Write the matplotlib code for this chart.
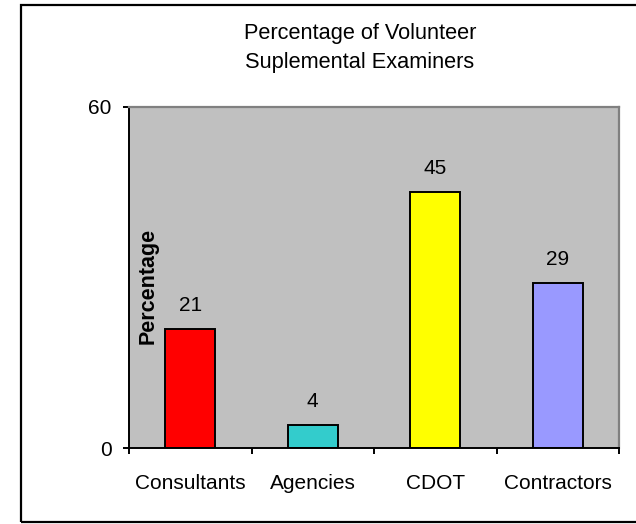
import matplotlib.pyplot as plt
from matplotlib.patches import Rectangle

plt.rcParams['font.family'] = ['Liberation Sans', 'DejaVu Sans']

categories = ['Consultants', 'Agencies', 'CDOT', 'Contractors']
values = [21, 4, 45, 29]
bar_colors = ['#ff0000', '#33cccc', '#ffff00', '#9999ff']

fig = plt.figure(figsize=(6.36, 5.24), dpi=100)
ax = fig.add_axes([129/636, 1 - 448/524, 490/636, 341/524])

# outer frame (right side runs off the picture)
fig.patches.append(Rectangle((21/636, 1 - 522/524), 1.0, 517/524,
                             transform=fig.transFigure, fill=False,
                             edgecolor='black', linewidth=1.6, clip_on=False))

x = range(len(categories))
ax.bar(x, values, width=0.41, color=bar_colors, edgecolor='black', linewidth=1.4)
for i, v in enumerate(values):
    ax.annotate(str(v), xy=(i, v), xytext=(0, 13), textcoords='offset points',
                ha='center', va='baseline', fontsize=15)

ax.set_facecolor('#c0c0c0')
ax.set_xlim(-0.5, 3.5)
ax.set_ylim(0, 60)
ax.set_yticks([0, 60])
ax.tick_params(axis='y', direction='out', length=4.5, width=1.4, pad=8, labelsize=15)

ax.set_xticks(list(x))
ax.set_xticklabels(categories)
ax.set_xticks([-0.5, 0.5, 1.5, 2.5, 3.5], minor=True)
ax.tick_params(axis='x', which='major', length=0, pad=18.5, labelsize=15)
ax.tick_params(axis='x', which='minor', direction='out', length=4.5, width=1.4)

for side in ['left', 'bottom']:
    ax.spines[side].set_color('black')
    ax.spines[side].set_linewidth(1.4)
for side in ['top', 'right']:
    ax.spines[side].set_color('#808080')
    ax.spines[side].set_linewidth(1.6)

ax.set_ylabel('Percentage', fontsize=15.5, fontweight='bold', va='center')
ax.yaxis.set_label_coords(0.039, 0.475)

fig.text(360/636, 1 - 23/524, 'Percentage of Volunteer\nSuplemental Examiners',
         ha='center', va='top', fontsize=15.7, linespacing=1.5)

fig.savefig('out.png', dpi=100)
